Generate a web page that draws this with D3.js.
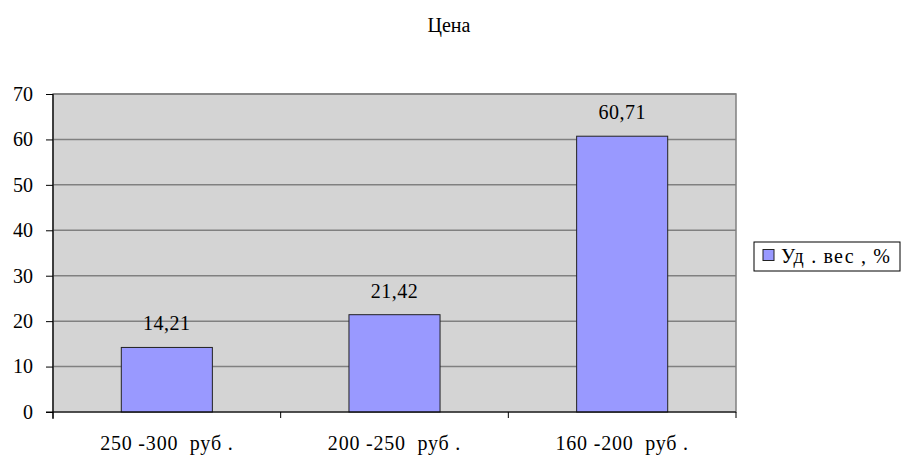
<!DOCTYPE html>
<html><head><meta charset="utf-8">
<script src="https://cdn.jsdelivr.net/npm/d3@7"></script>
<style>
body{margin:0;background:#fff}svg{display:block}svg text{font-family:"Liberation Serif","Times New Roman",serif;fill:#000}</style>
</head><body>
<svg id="c" width="904" height="463"></svg>
<script>
const categories = ["250 -300  руб .", "200 -250  руб .", "160 -200  руб ."];
const values = [14.21, 21.42, 60.71];
const valueLabels = ["14,21", "21,42", "60,71"];
const yTicks = [0, 10, 20, 30, 40, 50, 60, 70];
const seriesName = "Уд . вес , %";
const title = "Цена";

const svg = d3.select("#c");
const L = 53, R = 736, T = 94, B = 412;
const x = d3.scaleBand().domain(categories).range([L, R]).padding(0);
const y = d3.scaleLinear().domain([0, 70]).range([B, T]);

svg.append("rect").attr("x", L).attr("y", T).attr("width", R - L).attr("height", B - T)
  .attr("fill", "#d4d4d4").attr("stroke", "#808080").attr("stroke-width", 1.5);

svg.append("g").selectAll("line").data(yTicks.filter(d => d > 0)).join("line")
  .attr("x1", L).attr("x2", R).attr("y1", d => y(d)).attr("y2", d => y(d))
  .attr("stroke", "#808080").attr("stroke-width", 1.5);

const bw = x.bandwidth() * 0.4;
svg.append("g").selectAll("rect").data(values).join("rect")
  .attr("x", (d, i) => x(categories[i]) + x.bandwidth() / 2 - bw / 2)
  .attr("y", d => y(d)).attr("width", bw).attr("height", d => B - y(d))
  .attr("fill", "#9999ff").attr("stroke", "#222").attr("stroke-width", 1);

svg.append("g").selectAll("text").data(values).join("text")
  .attr("x", (d, i) => x(categories[i]) + x.bandwidth() / 2)
  .attr("y", d => y(d) - 17).attr("text-anchor", "middle").attr("font-size", 20)
  .attr("letter-spacing", 0.5)
  .text((d, i) => valueLabels[i]);

// y axis
const ya = svg.append("g").attr("transform", `translate(${L},0)`)
  .call(d3.axisLeft(y).tickValues(yTicks).tickSize(7).tickPadding(13).tickFormat(d3.format("d")));
ya.attr("font-family", null);
ya.select(".domain").remove();
ya.selectAll("line").attr("stroke", "#000");
ya.selectAll("text").attr("font-size", 20);
svg.append("line").attr("x1", L).attr("x2", L).attr("y1", T).attr("y2", B + 7).attr("stroke", "#000").attr("stroke-width", 1.2);

// x axis
svg.append("line").attr("x1", L - 7).attr("x2", R).attr("y1", B).attr("y2", B).attr("stroke", "#000").attr("stroke-width", 1.2);
const bounds = categories.map(c => x(c)).concat([R]);
svg.append("g").selectAll("line").data(bounds).join("line")
  .attr("x1", d => d).attr("x2", d => d).attr("y1", B).attr("y2", B + 6).attr("stroke", "#000");
svg.append("g").selectAll("text").data(categories).join("text")
  .attr("x", d => x(d) + x.bandwidth() / 2).attr("y", 450).attr("text-anchor", "middle")
  .attr("font-size", 20).attr("letter-spacing", 0.8)
  .attr("xml:space", "preserve").style("white-space", "pre").text(d => d);

// title
svg.append("text").attr("x", 449).attr("y", 32).attr("text-anchor", "middle").attr("font-size", 20).text(title);

// legend
svg.append("rect").attr("x", 754).attr("y", 242).attr("width", 146).attr("height", 29)
  .attr("fill", "#fff").attr("stroke", "#000").attr("stroke-width", 1);
svg.append("rect").attr("x", 763).attr("y", 249.5).attr("width", 11).attr("height", 11)
  .attr("fill", "#9999ff").attr("stroke", "#222");
svg.append("text").attr("x", 781).attr("y", 263).attr("font-size", 20).attr("letter-spacing", 1.2)
  .attr("xml:space", "preserve").style("white-space", "pre").text(seriesName);
</script>
</body></html>
